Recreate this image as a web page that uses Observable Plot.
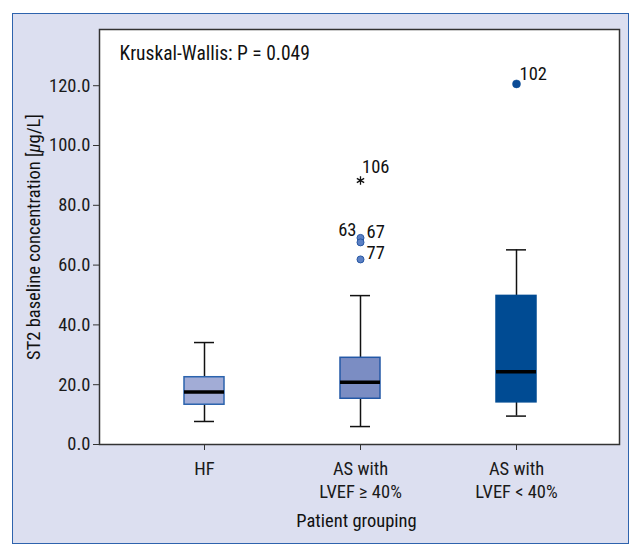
<!DOCTYPE html>
<html><head><meta charset="utf-8">
<script src="https://cdn.jsdelivr.net/npm/d3@7"></script>
<script src="https://cdn.jsdelivr.net/npm/@observablehq/plot@0.6"></script>
<style>
body{margin:0;background:#fff;}
#wrap{position:relative;width:643px;height:554px;}
#panel{position:absolute;left:12px;top:13px;width:617px;height:531px;background:#dcdff0;border:1.5px solid #2e63ad;box-sizing:border-box;}
#chart{position:absolute;left:0;top:0;}
</style></head><body>
<div id="wrap"><div id="panel"></div><div id="chart"></div></div>
<script>
const groups = ["HF", "AS with\nLVEF ≥ 40%", "AS with\nLVEF < 40%"];
const whiskerLow = [7.7, 6.0, 9.5];
const q1 = [13.3, 15.3, 14.1];
const median = [17.6, 20.8, 24.3];
const q3 = [22.5, 29.0, 49.7];
const whiskerHigh = [34.1, 49.8, 65.1];

const outlierGroup = [1, 1, 1, 2];
const outlierValue = [69.1, 67.6, 61.9, 120.6];
const outlierLabel = ["67", "63", "77", "102"];

const extremeGroup = [1];
const extremeValue = [88.3];
const extremeLabel = ["106"];

const yTicks = [0, 20, 40, 60, 80, 100, 120];
const yMax = 138.8;

const boxes = groups.map((g, i) => ({group: g, lo: whiskerLow[i], q1: q1[i], med: median[i], q3: q3[i], hi: whiskerHigh[i]}));
const outliers = outlierValue.map((v, i) => ({group: groups[outlierGroup[i]], value: v, label: outlierLabel[i]}));
const extremes = extremeValue.map((v, i) => ({group: groups[extremeGroup[i]], value: v, label: extremeLabel[i]}));

const fillColors = ["#a2acd6", "#7b8dc3", "#004b93"];
const strokeColors = ["#2b63ad", "#2358a6", "#004b93"];
const font = "'Roboto Condensed', 'DejaVu Sans Condensed', sans-serif";

const chart = Plot.plot({
  width: 643, height: 554,
  marginLeft: 99, marginRight: 24, marginTop: 29, marginBottom: 110,
  style: {fontFamily: font, fontSize: "18.5px", background: "transparent", color: "#1a1a1a"},
  x: {type: "band", domain: groups, range: [183, 536], paddingInner: 0.744, paddingOuter: 0},
  y: {domain: [0, yMax]},
  color: {domain: groups, range: fillColors},
  marks: [
    Plot.frame({fill: "white", stroke: "#333", strokeWidth: 1.5}),
    Plot.ruleX(boxes, {x: "group", y1: "lo", y2: "hi", stroke: "#111", strokeWidth: 1.5}),
    Plot.tickY(boxes, {x: "group", y: "lo", stroke: "#111", strokeWidth: 1.5, insetLeft: 10, insetRight: 10}),
    Plot.tickY(boxes, {x: "group", y: "hi", stroke: "#111", strokeWidth: 1.5, insetLeft: 10, insetRight: 10}),
    Plot.barY(boxes, {x: "group", y1: "q1", y2: "q3", fill: "group", stroke: (d) => strokeColors[groups.indexOf(d.group)], strokeWidth: 1.5}),
    Plot.tickY(boxes, {x: "group", y: "med", stroke: "#000", strokeWidth: 3.5}),
    Plot.dot(outliers.filter(d => d.group === groups[1]), {x: "group", y: "value", r: 3.5, fill: "#5b80c4", stroke: "#2757a3", strokeWidth: 1}),
    Plot.dot(outliers.filter(d => d.group === groups[2]), {x: "group", y: "value", r: 4, fill: "#0b4b96", stroke: "#0b4b96", strokeWidth: 0.5}),
    Plot.dot(extremes, {x: "group", y: "value", symbol: "asterisk", r: 4, stroke: "#111", strokeWidth: 1.3}),
    Plot.text(outliers.filter(d => d.label === "63"), {x: "group", y: "value", text: "label", textAnchor: "end", dx: -4, dy: -12, fill: "#111"}),
    Plot.text(outliers.filter(d => d.label === "67" || d.label === "77"), {x: "group", y: "value", text: "label", textAnchor: "start", dx: 6, dy: -6, fill: "#111"}),
    Plot.text(outliers.filter(d => d.label === "102"), {x: "group", y: "value", text: "label", textAnchor: "start", dx: 3, dy: -10, fill: "#111"}),
    Plot.text(extremes, {x: "group", y: "value", text: "label", textAnchor: "start", dx: 1.5, dy: -13, fill: "#111"}),
    Plot.text(["Kruskal-Wallis: P = 0.049"], {frameAnchor: "top-left", dx: 20, dy: 24, lineAnchor: "middle", textAnchor: "start", fill: "#111", fontSize: 19.5}),
    Plot.text(["Patient grouping"], {frameAnchor: "bottom", dx: -3, dy: 77, lineAnchor: "middle", fill: "#111"}),
    Plot.text(["ST2 baseline concentration [μg/L]"], {frameAnchor: "left", dx: -65, rotate: -90, lineAnchor: "middle", textAnchor: "middle", fill: "#111"}),
    Plot.axisY({ticks: yTicks, tickFormat: d3.format(".1f"), tickSize: 6, tickPadding: 3, label: null, stroke: "#333"}),
    Plot.axisX({tickSize: 6, tickPadding: 8, label: null, stroke: "#333", lineHeight: 1.25})
  ]
});
document.getElementById("chart").appendChild(chart);

// italicize the mu in the y-axis label
d3.select(chart).selectAll("text").each(function() {
  const t = d3.select(this);
  if (t.text() === "ST2 baseline concentration [μg/L]") {
    t.text(null);
    t.append("tspan").text("ST2 baseline concentration [");
    t.append("tspan").attr("font-style", "italic").text("μ");
    t.append("tspan").text("g/L]");
  }
});
</script>
</body></html>
